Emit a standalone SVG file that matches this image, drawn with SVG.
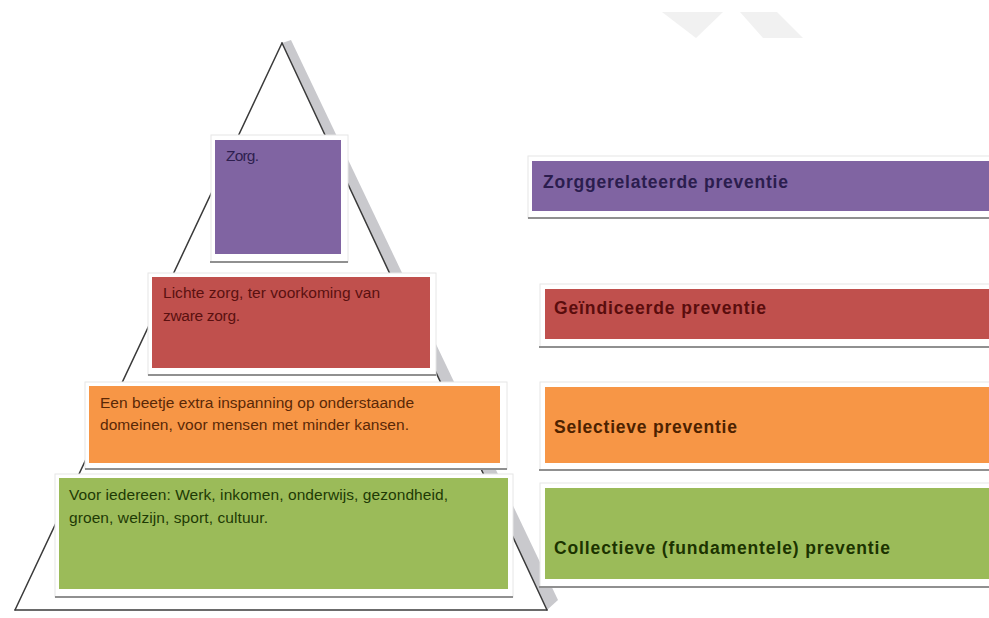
<svg xmlns="http://www.w3.org/2000/svg" width="989" height="618" viewBox="0 0 989 618">
<style>
  .frame { fill: #ffffff; stroke: #e6e6e6; stroke-width: 1; }
  .shadow { stroke: #909090; stroke-width: 2; fill: none; }
  .edge { stroke: #3a3a3a; stroke-width: 1.5; fill: none; stroke-linecap: round; }
  .txt { font-family: "Liberation Sans", Arial, sans-serif; font-size: 15.5px; }
  .lbl { font-family: "Liberation Sans", Arial, sans-serif; font-size: 17.5px; font-weight: bold; }
  .purple { fill: #8064a2; }
  .red { fill: #c0504d; }
  .orange { fill: #f79646; }
  .green { fill: #9bbb59; }
</style>
<rect x="0" y="0" width="989" height="618" fill="#ffffff"/>

<g id="watermark" fill="#f1f1f1">
  <polygon points="662,12 723,12 696,38"/>
  <polygon points="740,12 777,12 803,38 763,38"/>
</g>

<g id="pyramid">
  <polygon points="282,43 291,40 558,600 547,610" fill="#c9c9cd"/>
  <line class="edge" x1="282" y1="43" x2="15" y2="610"/>
  <line class="edge" x1="282" y1="43" x2="547" y2="610"/>
  <line class="edge" x1="15" y1="610" x2="547" y2="610"/>
</g>

<g id="box-zorg">
  <rect class="frame" x="211" y="135" width="137" height="127"/>
  <line class="shadow" x1="210" y1="262" x2="348" y2="262"/>
  <rect class="purple" x="215" y="140" width="126" height="114"/>
  <text class="txt" x="226" y="161" fill="#2e1f4f" textLength="33">Zorg.</text>
</g>

<g id="box-lichte-zorg">
  <rect class="frame" x="148" y="273" width="288" height="102"/>
  <line class="shadow" x1="148" y1="375" x2="436" y2="375"/>
  <rect class="red" x="152" y="277" width="278" height="91"/>
  <text class="txt" fill="#5a1010">
    <tspan x="163" y="298" textLength="217">Lichte zorg, ter voorkoming van</tspan>
    <tspan x="163" y="321" textLength="77">zware zorg.</tspan>
  </text>
</g>

<g id="box-extra-inspanning">
  <rect class="frame" x="85" y="382" width="422" height="87"/>
  <line class="shadow" x1="85" y1="469" x2="507" y2="469"/>
  <rect class="orange" x="89" y="386" width="411" height="77"/>
  <text class="txt" fill="#5a2806">
    <tspan x="100" y="408" textLength="314">Een beetje extra inspanning op onderstaande</tspan>
    <tspan x="100" y="430" textLength="309">domeinen, voor mensen met minder kansen.</tspan>
  </text>
</g>

<g id="box-iedereen">
  <rect class="frame" x="55" y="474" width="458" height="123"/>
  <line class="shadow" x1="55" y1="597" x2="513" y2="597"/>
  <rect class="green" x="59" y="478" width="449" height="111"/>
  <text class="txt" fill="#1e3a05">
    <tspan x="69" y="500" textLength="379">Voor iedereen: Werk, inkomen, onderwijs, gezondheid,</tspan>
    <tspan x="69" y="523" textLength="199">groen, welzijn, sport, cultuur.</tspan>
  </text>
</g>

<g id="bar-zorggerelateerde">
  <rect class="frame" x="528" y="156" width="470" height="62"/>
  <line class="shadow" x1="528" y1="218" x2="989" y2="218"/>
  <rect class="purple" x="532" y="161" width="457" height="50"/>
  <text class="lbl" x="543" y="188" fill="#2b1d4e" textLength="245">Zorggerelateerde preventie</text>
</g>

<g id="bar-geindiceerde">
  <rect class="frame" x="540" y="284" width="460" height="63"/>
  <line class="shadow" x1="539" y1="347" x2="989" y2="347"/>
  <rect class="red" x="545" y="289" width="444" height="50"/>
  <text class="lbl" x="554" y="314" fill="#5a0d0d" textLength="212">Geïndiceerde preventie</text>
</g>

<g id="bar-selectieve">
  <rect class="frame" x="540" y="382" width="460" height="88"/>
  <line class="shadow" x1="539" y1="470" x2="989" y2="470"/>
  <rect class="orange" x="545" y="387" width="444" height="76"/>
  <text class="lbl" x="554" y="433" fill="#4d2200" textLength="183">Selectieve preventie</text>
</g>

<g id="bar-collectieve">
  <rect class="frame" x="540" y="483" width="460" height="104"/>
  <line class="shadow" x1="539" y1="587" x2="989" y2="587"/>
  <rect class="green" x="545" y="488" width="444" height="91"/>
  <text class="lbl" x="554" y="554" fill="#1c3300" textLength="336">Collectieve (fundamentele) preventie</text>
</g>

<g id="connectors"/>
</svg>
